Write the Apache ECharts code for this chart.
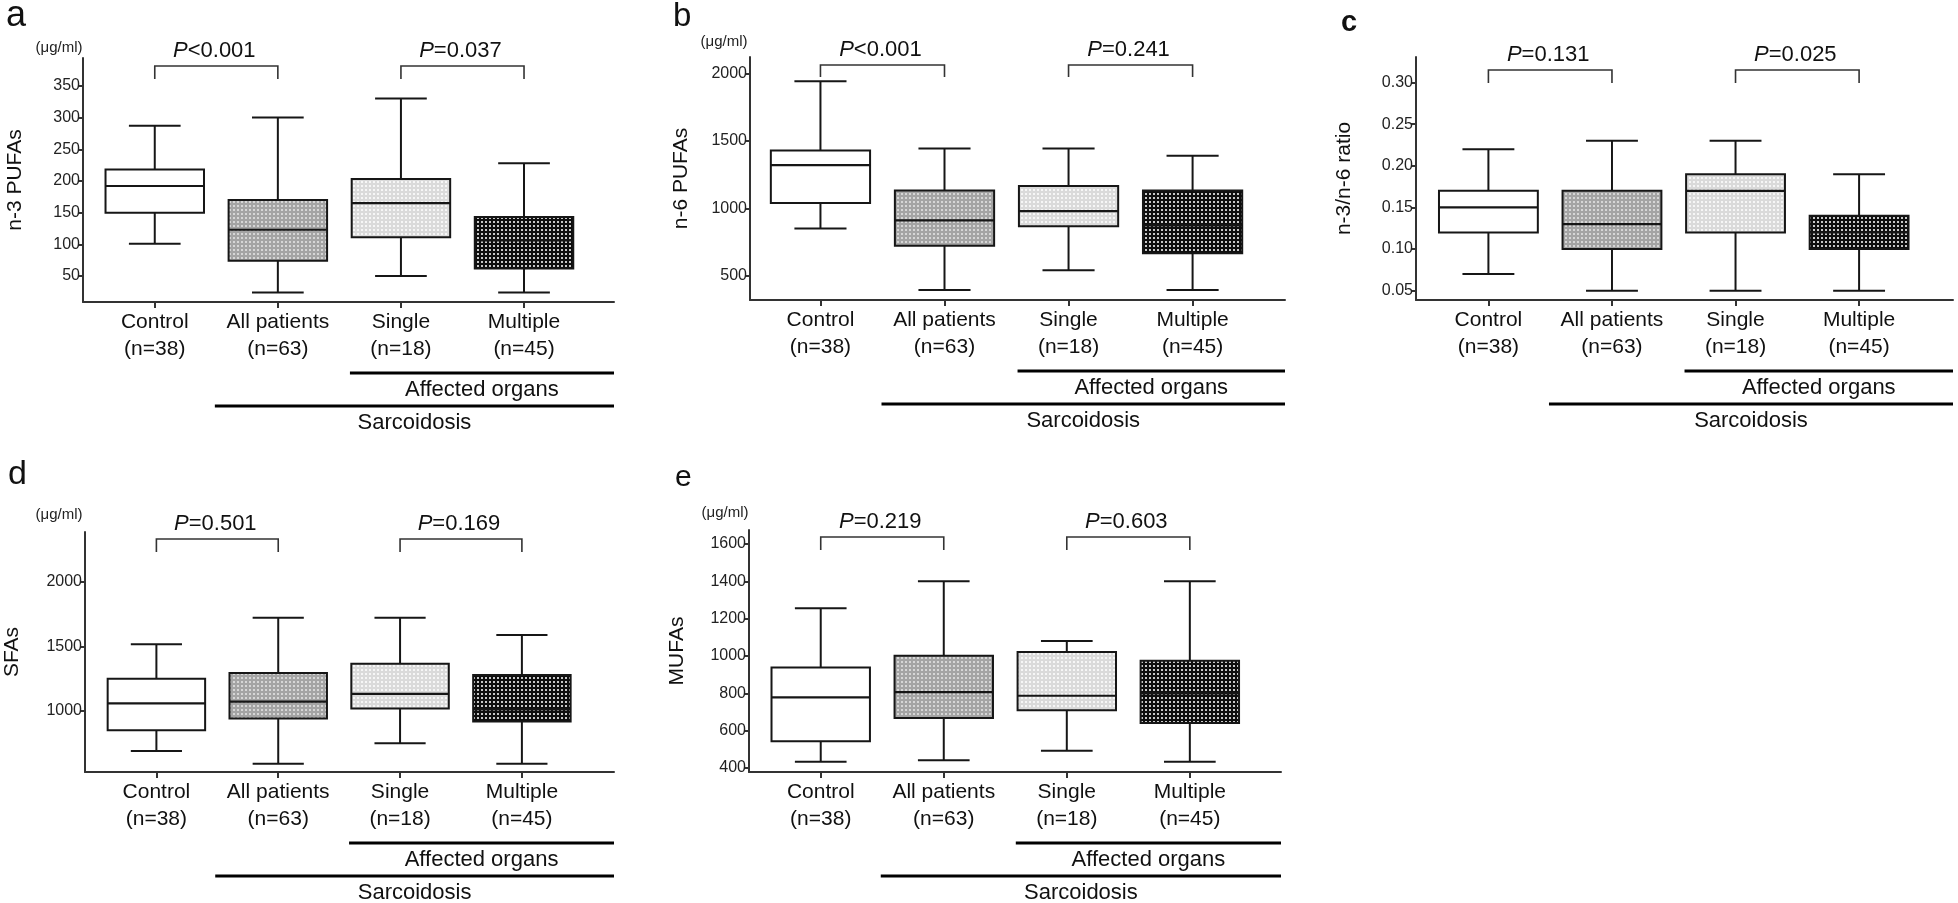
<!DOCTYPE html>
<html>
<head>
<meta charset="utf-8">
<script src="https://cdn.jsdelivr.net/npm/echarts@6/dist/echarts.min.js"></script>
<style>
html,body{margin:0;padding:0;background:#fff;}
#chart{width:1958px;height:903px;}
</style>
</head>
<body>
<div id="chart"></div>
<script>
// ---------------- data ----------------
const categories = ['Control\n(n=38)', 'All patients\n(n=63)', 'Single\n(n=18)', 'Multiple\n(n=45)'];
// each box: [min, Q1, median, Q3, max]
const n3Pufas = [[101,150,192,218,287],[24,74,123,170,300],[50,111,165,203,330],[24,62,106,143,228]];
const n6Pufas = [[851,1039,1321,1430,1943],[395,723,911,1133,1444],[540,867,980,1165,1444],[395,667,874,1133,1390]];
const n3n6Ratio = [[0.07,0.12,0.15,0.17,0.22],[0.05,0.10,0.13,0.17,0.23],[0.05,0.12,0.17,0.19,0.23],[0.05,0.10,0.12,0.14,0.19]];
const sfas = [[687,848,1057,1248,1515],[587,938,1070,1292,1721],[747,1016,1130,1364,1721],[587,915,1010,1276,1587]];
const mufas = [[433,543,778,939,1256],[441,668,807,1001,1400],[493,709,787,1021,1081],[433,641,800,974,1400]];

const n3Ticks = [50,100,150,200,250,300,350];
const n6Ticks = [500,1000,1500,2000];
const ratioTicks = [0.05,0.10,0.15,0.20,0.25,0.30];
const sfaTicks = [1000,1500,2000];
const mufaTicks = [400,600,800,1000,1200,1400,1600];

const n3PValues = ['<0.001','=0.037'];
const n6PValues = ['<0.001','=0.241'];
const ratioPValues = ['=0.131','=0.025'];
const sfaPValues = ['=0.501','=0.169'];
const mufaPValues = ['=0.219','=0.603'];

const yNames = ['n-3 PUFAs','n-6 PUFAs','n-3/n-6 ratio','SFAs','MUFAs'];
const panelLetters = ['a','b','c','d','e'];
const unitText = '(\u03bcg/ml)';
const groupTexts = ['Affected organs','Sarcoidosis'];

// ---------------- layout ----------------
const FONT = '"Liberation Sans", Arial, Helvetica, sans-serif';
const panels = [
  {values:n3Pufas, ticks:n3Ticks, p:n3PValues, dec:0,
   grid:{left:83, top:58, width:531, height:244}, x:[-0.583,3.731], y:[9,394], nameGap:57,
   br:[8,21], letter:{x:6,y:25,size:36,bold:false}, unit:{x:59,y:48}},
  {values:n6Pufas, ticks:n6Ticks, p:n6PValues, dec:0,
   grid:{left:750, top:57, width:535, height:243}, x:[-0.568,3.745], y:[320,2123], nameGap:58,
   br:[8,20], letter:{x:673,y:25,size:33,bold:false}, unit:{x:724,y:42}},
  {values:n3n6Ratio, ticks:ratioTicks, p:ratioPValues, dec:2,
   grid:{left:1416, top:57, width:537, height:243}, x:[-0.586,3.76], y:[0.0388,0.3307], nameGap:61,
   br:[13,26], letter:{x:1341,y:30,size:29,bold:true}, unit:null},
  {values:sfas, ticks:sfaTicks, p:sfaPValues, dec:0,
   grid:{left:85, top:532, width:529, height:240}, x:[-0.586,3.756], y:[523,2388], nameGap:62,
   br:[7,20], letter:{x:8,y:483,size:34,bold:false}, unit:{x:59,y:515}},
  {values:mufas, ticks:mufaTicks, p:mufaPValues, dec:0,
   grid:{left:749, top:530, width:532, height:242}, x:[-0.583,3.741], y:[378.6,1675], nameGap:61,
   br:[7,20], letter:{x:675,y:485,size:30,bold:false}, unit:{x:725,y:513}}
];

// ---------------- patterns ----------------
function makePattern(base, dot, size, dotSize){
  const c = document.createElement('canvas');
  c.width = size; c.height = size;
  const g = c.getContext('2d');
  g.fillStyle = base; g.fillRect(0,0,size,size);
  g.fillStyle = dot;
  const o = Math.floor((size-dotSize)/2);
  g.fillRect(o,o,dotSize,dotSize);
  return {image:c, repeat:'repeat'};
}
const fills = [
  '#ffffff',
  makePattern('#a4a4a4','#d6d6d6',4,2),
  makePattern('#dadada','#f6f6f6',4,2),
  makePattern('#0e0e0e','#c8c8c8',4,2)
];

const STROKE = '#161616';
const AXIS = '#333333';

function boxRender(params, api){
  const x = api.value(0);
  const v = [api.value(1),api.value(2),api.value(3),api.value(4),api.value(5)];
  const p = v.map(val => api.coord([x, val]));
  const cx = p[0][0];
  const w = api.size([0.8,0])[0];
  const cw = api.size([0.42,0])[0];
  const ls = {stroke:STROKE, lineWidth:2};
  return {type:'group', children:[
    {type:'line', shape:{x1:cx,y1:p[0][1],x2:cx,y2:p[1][1]}, style:ls},
    {type:'line', shape:{x1:cx,y1:p[3][1],x2:cx,y2:p[4][1]}, style:ls},
    {type:'line', shape:{x1:cx-cw/2,y1:p[0][1],x2:cx+cw/2,y2:p[0][1]}, style:ls},
    {type:'line', shape:{x1:cx-cw/2,y1:p[4][1],x2:cx+cw/2,y2:p[4][1]}, style:ls},
    {type:'rect', shape:{x:cx-w/2,y:p[3][1],width:w,height:p[1][1]-p[3][1]},
     style:{fill:fills[x], stroke:STROKE, lineWidth:2}},
    {type:'line', shape:{x1:cx-w/2,y1:p[2][1],x2:cx+w/2,y2:p[2][1]}, style:{stroke:STROKE, lineWidth:2.2}}
  ]};
}

function annotRender(panel){
  return function(params, api){
    const cs = params.coordSys;
    const top = cs.y, bottom = cs.y + cs.height, right = cs.x + cs.width;
    const xp = i => api.coord([i, panel.y[0]])[0];
    const ch = [];
    const brStyle = {stroke:'#333', lineWidth:1.6, fill:null};
    [[0,1],[2,3]].forEach((pair, k) => {
      const x1 = xp(pair[0]), x2 = xp(pair[1]);
      const yt = top + panel.br[0], ye = top + panel.br[1];
      ch.push({type:'polyline', shape:{points:[[x1,ye],[x1,yt],[x2,yt],[x2,ye]]}, style:brStyle});
      ch.push({type:'text', x:(x1+x2)/2 - 2, y:yt-15, style:{
        text:'{i|P}{n|' + panel.p[k] + '}', align:'center', verticalAlign:'middle',
        rich:{i:{fontStyle:'italic', fontSize:22, fontFamily:FONT, fill:'#111'},
              n:{fontSize:22, fontFamily:FONT, fill:'#111'}}}});
    });
    const aStart = xp(2) - 51, sStart = xp(1) - 63;
    const lineStyle = {stroke:'#000', lineWidth:3};
    ch.push({type:'line', shape:{x1:aStart,y1:bottom+71,x2:right,y2:bottom+71}, style:lineStyle});
    ch.push({type:'text', x:(aStart+right)/2, y:bottom+88, style:{text:groupTexts[0], align:'center', verticalAlign:'middle', fontSize:22, fontFamily:FONT, fill:'#111'}});
    ch.push({type:'line', shape:{x1:sStart,y1:bottom+104,x2:right,y2:bottom+104}, style:lineStyle});
    ch.push({type:'text', x:(sStart+right)/2, y:bottom+121, style:{text:groupTexts[1], align:'center', verticalAlign:'middle', fontSize:22, fontFamily:FONT, fill:'#111'}});
    return {type:'group', children:ch};
  };
}

const option = {
  animation:false,
  backgroundColor:'#ffffff',
  grid:[], xAxis:[], yAxis:[], series:[], graphic:[]
};

panels.forEach((pn, i) => {
  option.grid.push(Object.assign({containLabel:false}, pn.grid));
  option.xAxis.push({
    type:'value', gridIndex:i, min:pn.x[0], max:pn.x[1],
    axisLine:{show:true, onZero:false, lineStyle:{color:AXIS, width:2}},
    axisTick:{show:true, customValues:[0,1,2,3], length:6, lineStyle:{color:AXIS, width:2}},
    axisLabel:{customValues:[0,1,2,3], formatter:v => categories[Math.round(v)],
      fontSize:21, lineHeight:27, color:'#111', margin:7, fontFamily:FONT},
    splitLine:{show:false}
  });
  option.yAxis.push({
    type:'value', gridIndex:i, min:pn.y[0], max:pn.y[1],
    name:yNames[i], nameLocation:'middle', nameGap:pn.nameGap,
    nameTextStyle:{fontSize:21, color:'#111', fontFamily:FONT},
    axisLine:{show:true, onZero:false, lineStyle:{color:AXIS, width:2}},
    axisTick:{show:true, customValues:pn.ticks, length:5, lineStyle:{color:AXIS, width:2}},
    axisLabel:{customValues:pn.ticks, formatter:v => v.toFixed(pn.dec),
      fontSize:16, color:'#222', margin:3, fontFamily:FONT},
    splitLine:{show:false}
  });
  option.series.push({
    type:'custom', xAxisIndex:i, yAxisIndex:i, renderItem:boxRender,
    data:pn.values.map((v, k) => [k].concat(v)),
    encode:{x:0, y:[1,2,3,4,5]}, clip:false, z:3
  });
  option.series.push({
    type:'custom', xAxisIndex:i, yAxisIndex:i, renderItem:annotRender(pn),
    data:[[0, pn.y[0]]], encode:{x:0, y:1}, clip:false, silent:true, z:4
  });
  option.graphic.push({type:'text', left:pn.letter.x, top:pn.letter.y - pn.letter.size*0.75,
    style:{text:panelLetters[i], fontSize:pn.letter.size, fontWeight:pn.letter.bold ? 'bold' : 'normal', fontFamily:FONT, fill:'#111'}});
  if (pn.unit) {
    option.graphic.push({type:'text', x:pn.unit.x, y:pn.unit.y,
      style:{text:unitText, fontSize:15, fontFamily:FONT, fill:'#222', align:'center', verticalAlign:'middle'}});
  }
});

const chart = echarts.init(document.getElementById('chart'), null, {renderer:'canvas'});
chart.setOption(option);
</script>
</body>
</html>
